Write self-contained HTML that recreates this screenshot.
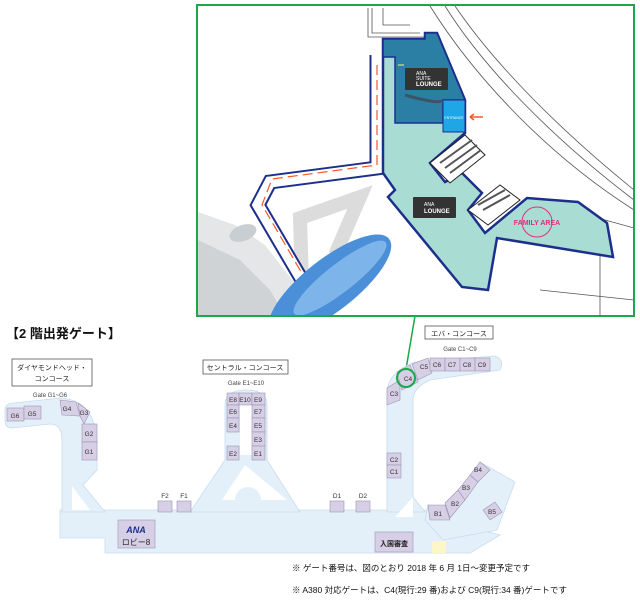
<!DOCTYPE html>
<html><head><meta charset="utf-8"><style>
body{margin:0;background:#fff;width:640px;height:603px;overflow:hidden;font-family:"Liberation Sans","Noto Sans CJK JP",sans-serif}
</style></head><body>
<svg width="640" height="603" viewBox="0 0 640 603" xmlns="http://www.w3.org/2000/svg" font-family="Liberation Sans, Noto Sans CJK JP, sans-serif">
<defs><clipPath id="ic"><rect x="197" y="5" width="437" height="311"/></clipPath></defs>
<!-- ===== TOP INSET ===== -->
<g clip-path="url(#ic)">
<g fill="none" stroke="#555" stroke-width="0.8">
<path d="M430 6 C470 70 540 150 634 210"/>
<path d="M445 6 C485 70 555 140 634 200"/>
<path d="M455 6 C495 65 560 130 634 190"/>
<path d="M372 8 L372 33 L420 33 M368 8 L368 37 L425 37"/>
<path d="M383 8 L383 25 L410 25"/>
<path d="M587 215 L634 228 M600 220 L600 316 M540 290 L634 300"/>
</g>
<polyline points="302,282 300,218 360,197 335,255" fill="none" stroke="#dcdcdc" stroke-width="14"/>
<polygon points="198,212 235,225 265,245 300,290 292,316 198,316" fill="#e4e6e8"/>
<polygon points="198,240 240,260 270,290 285,316 198,316" fill="#cfd3d6"/>
<ellipse cx="243" cy="233" rx="14" ry="8" fill="#c9ced2" transform="rotate(-20 243 233)"/>
<polyline points="377,55 377,168 270,182 258,205 302,280" fill="none" stroke="#1c2f8c" stroke-width="15"/>
<polyline points="377,55 377,168 270,182 258,205 302,280" fill="none" stroke="#fff" stroke-width="11"/>
<polyline points="377,65 377,165 272,179 262,205 303,275" fill="none" stroke="#f05a28" stroke-width="1.2" stroke-dasharray="10 5"/>
<ellipse cx="330" cy="285" rx="75" ry="26" fill="#4a8fd8" transform="rotate(-38 330 285)"/>
<ellipse cx="340" cy="278" rx="58" ry="14" fill="#7db4ea" transform="rotate(-38 340 278)"/>
<polygon points="383,39 425,39 425,33 437,33 465,100 465,133 430,163 445,182 462,173 482,193 468,210 485,233 527,198 578,202 607,223 613,257 497,238 488,290 462,287 388,197 395,190 383,173" fill="#a9ddd3" stroke="#1c2f8c" stroke-width="2.5"/>
<polygon points="383,39 425,39 425,33 437,33 465,100 443,100 443,123 395,123 395,57 383,57" fill="#2b7fa5" stroke="#1c2f8c" stroke-width="1.5"/>
<rect x="443" y="100" width="22" height="32" fill="#1fa6e6" stroke="#1c2f8c" stroke-width="1"/>
<text x="454" y="119" font-size="3.5" fill="#fff" text-anchor="middle">ENTRANCE</text>
<path d="M405 95 Q440 105 443 100" fill="none" stroke="#3a5566" stroke-width="3"/>
<rect x="405" y="68" width="43" height="22" fill="#333" rx="1"/>
<text x="416" y="75" font-size="5" fill="#fff">ANA</text>
<text x="416" y="80" font-size="5" fill="#fff">SUITE</text>
<text x="416" y="86" font-size="6" fill="#fff" font-weight="bold">LOUNGE</text>
<path d="M483 117 L470 117" stroke="#f05a28" stroke-width="1.5"/><path d="M470 117 l4 -3 M470 117 l4 3" stroke="#f05a28" stroke-width="1.5"/>
<path d="M404 65 L398 65" stroke="#b6d65a" stroke-width="1.5"/>
<g fill="#fff" stroke="#222" stroke-width="1">
<polygon points="430,163 465,135 485,155 450,183"/>
<polygon points="468,210 500,185 520,200 488,225"/>
</g>
<g stroke="#555" stroke-width="2">
<line x1="440" y1="163" x2="472" y2="140"/><line x1="445" y1="168" x2="477" y2="145"/><line x1="450" y1="173" x2="481" y2="150"/>
<line x1="478" y1="205" x2="505" y2="190"/><line x1="483" y1="210" x2="510" y2="195"/>
</g>
<rect x="413" y="197" width="43" height="21" fill="#333" rx="1"/>
<text x="424" y="206" font-size="5" fill="#fff">ANA</text>
<text x="424" y="213" font-size="6" fill="#fff" font-weight="bold">LOUNGE</text>
<circle cx="537" cy="222" r="15" fill="none" stroke="#e0307e" stroke-width="1"/>
<text x="537" y="225" font-size="7" fill="#e0307e" text-anchor="middle" font-weight="bold">FAMILY AREA</text>
</g>
<rect x="197" y="5" width="437" height="311" fill="none" stroke="#19a84a" stroke-width="2"/>
<line x1="415" y1="316" x2="406" y2="369" stroke="#19a84a" stroke-width="1.5"/>

<!-- ===== BOTTOM MAP ===== -->
<text x="6" y="338" font-size="13" font-weight="bold" fill="#111">【2 階出発ゲート】</text>
<g fill="#e3f0fa" stroke="#c8dcec" stroke-width="0.8">
<polygon points="60,510 430,510 445,520 500,535 470,553 105,553 105,538 60,538"/>
<path d="M5 412 Q4 403 14 403 L60 398 Q97 400 97 447 L97 470 L83 485 L105 512 L62 512 L62 440 Q62 424 50 424 L12 428 Q5 428 5 420 Z"/>
<path d="M225 460 L225 405 Q225 390 246 390 Q267 390 267 405 L267 460 L300 512 L190 512 Z"/>
<path d="M387 512 L387 392 Q388 372 415 362 L495 356 Q505 360 500 370 L430 380 Q413 388 413 400 L413 497 L425 512 Z"/>
<polygon points="428,505 445,518 480,462 515,482 497,530 443,540 425,520"/>
</g>
<g fill="#fff">
<polygon points="72,486 72,510 90,510"/>
<rect x="240" y="400" width="12" height="55"/>
<polygon points="245,465 222,500 287,500"/>
<polygon points="395,517 413,497 413,517"/>
</g>
<path d="M235 500 A13 13 0 0 1 261 500 Z" fill="#e3f0fa"/>
<rect x="432" y="541" width="14" height="12" fill="#fdf6c8"/>
<g fill="#d6cfe6" stroke="#9c94b2" stroke-width="0.6">
<rect x="7" y="408" width="17" height="13"/><rect x="24" y="406" width="17" height="13"/>
<polygon points="60,400 76,402 80,416 62,415"/>
<polygon points="78,403 90,412 84,424 80,416"/>
<rect x="82" y="424" width="15" height="18"/><rect x="82" y="442" width="15" height="18"/>
<rect x="227" y="393" width="12" height="12"/><rect x="239" y="393" width="13" height="12"/><rect x="252" y="393" width="13" height="12"/>
<rect x="227" y="405" width="12" height="13"/><rect x="252" y="405" width="13" height="13"/>
<rect x="227" y="418" width="12" height="14"/><rect x="252" y="418" width="13" height="14"/>
<rect x="252" y="432" width="13" height="14"/>
<rect x="227" y="446" width="12" height="14"/><rect x="252" y="446" width="13" height="14"/>
<rect x="158" y="501" width="14" height="11"/><rect x="177" y="501" width="14" height="11"/>
<rect x="330" y="501" width="14" height="11"/><rect x="356" y="501" width="14" height="11"/>
<polygon points="387,388 400,380 400,400 387,405"/>
<polygon points="397,372 410,365 418,382 402,390"/>
<polygon points="412,364 428,358 432,373 418,380"/>
<rect x="430" y="358" width="15" height="13"/><rect x="445" y="358" width="15" height="13"/><rect x="460" y="358" width="15" height="13"/><rect x="475" y="358" width="15" height="13"/>
<rect x="387" y="453" width="14" height="12"/><rect x="387" y="465" width="14" height="13"/>
<polygon points="428,505 445,505 450,520 430,520"/>
<polygon points="445,503 458,490 465,500 450,518"/>
<polygon points="458,490 470,475 478,482 465,500"/>
<polygon points="470,475 480,462 490,470 478,482"/>
<polygon points="483,510 495,502 502,512 490,520"/>
<rect x="118" y="520" width="37" height="28"/>
<rect x="375" y="532" width="38" height="20"/>
</g>
<g font-size="6.5" fill="#333" text-anchor="middle">
<text x="15" y="418">G6</text><text x="32" y="416">G5</text><text x="67" y="411">G4</text><text x="84" y="415">G3</text><text x="89" y="436">G2</text><text x="89" y="454">G1</text>
<text x="233" y="402">E8</text><text x="245" y="402">E10</text><text x="258" y="402">E9</text>
<text x="233" y="414">E6</text><text x="258" y="414">E7</text><text x="233" y="428">E4</text><text x="258" y="428">E5</text><text x="258" y="442">E3</text><text x="233" y="456">E2</text><text x="258" y="456">E1</text>
<text x="165" y="498">F2</text><text x="184" y="498">F1</text><text x="337" y="498">D1</text><text x="363" y="498">D2</text>
<text x="394" y="396">C3</text><text x="408" y="381">C4</text><text x="424" y="369">C5</text><text x="437" y="367">C6</text><text x="452" y="367">C7</text><text x="467" y="367">C8</text><text x="482" y="367">C9</text>
<text x="394" y="462">C2</text><text x="394" y="474">C1</text>
<text x="438" y="516">B1</text><text x="455" y="506">B2</text><text x="466" y="490">B3</text><text x="478" y="472">B4</text><text x="492" y="514">B5</text>
</g>
<text x="136" y="533" font-size="9" font-weight="bold" font-style="italic" fill="#1c2f8c" text-anchor="middle">ANA</text>
<text x="136" y="545" font-size="8" fill="#222" text-anchor="middle">ロビー8</text>
<text x="394" y="546" font-size="7" fill="#222" text-anchor="middle" font-weight="bold">入国審査</text>
<circle cx="406" cy="378" r="9" fill="none" stroke="#19a84a" stroke-width="2"/>
<g fill="#fff" stroke="#555" stroke-width="0.8">
<rect x="12" y="359" width="80" height="27"/><rect x="203" y="360" width="85" height="14"/><rect x="425" y="326" width="68" height="13"/>
</g>
<g font-size="7" fill="#222" text-anchor="middle">
<text x="52" y="370">ダイヤモンドヘッド・</text><text x="52" y="381">コンコース</text>
<text x="245" y="370">セントラル・コンコース</text>
<text x="459" y="336">エバ・コンコース</text>
</g>
<g font-size="6" fill="#444" text-anchor="middle">
<text x="50" y="397">Gate G1~G6</text><text x="246" y="385">Gate E1~E10</text><text x="460" y="351">Gate C1~C9</text>
</g>
<g font-size="8.5" fill="#111">
<text x="292" y="571">※ ゲート番号は、図のとおり 2018 年 6 月 1日～変更予定です</text>
<text x="292" y="593">※ A380 対応ゲートは、C4(現行:29 番)および C9(現行:34 番)ゲートです</text>
</g>
</svg>
</body></html>
